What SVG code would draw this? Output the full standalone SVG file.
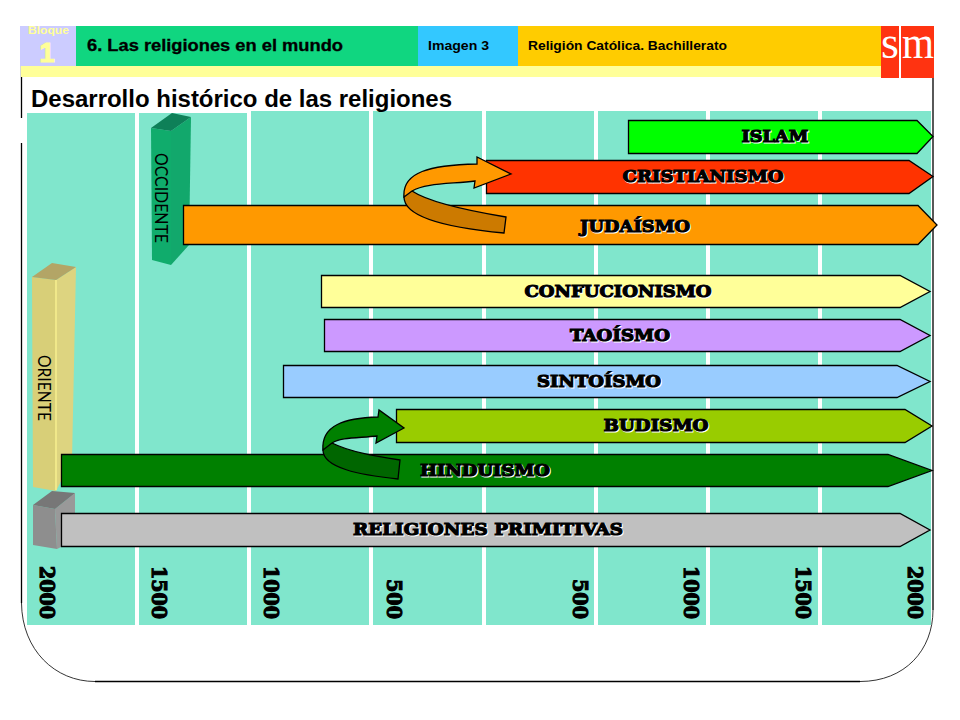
<svg xmlns="http://www.w3.org/2000/svg" width="960" height="720" viewBox="0 0 960 720">
<style>
.col{fill:#80e6cc}
.arr{stroke:#000;stroke-width:1.3}
.lab{font-family:"DejaVu Serif",serif;font-weight:bold;font-size:17.5px;text-anchor:middle;stroke:#000;stroke-width:1.2;fill:#000}
.sh{fill:#fff;stroke:#fff;stroke-width:1.2}
.yr{font-family:"DejaVu Serif",serif;font-weight:bold;font-size:20px;stroke:#000;stroke-width:1.1;fill:#000}
.hd{font-family:"Liberation Sans",Arial,sans-serif;font-weight:bold;fill:#000}
.pil{font-family:"Lato","Open Sans",sans-serif;font-weight:400;font-size:16.5px;fill:#000}
.bent{stroke:#000;stroke-width:1.3}
</style>
<rect width="960" height="720" fill="#fff"/>
<g id="frame" fill="none" stroke="#000">
<path stroke-width="1.3" d="M21.500 66V118M21.500 143V603M95 681.500H860M933 610V78"/>
<path stroke-width=".8" d="M21.500 603C22 650 55 681.500 95 681.500M860 681.500C905 681.500 933 650 933 610"/>
</g>
<g id="columns">
<rect class="col" x="27" y="113" width="108" height="512"/>
<rect class="col" x="139" y="113" width="108" height="512"/>
<rect class="col" x="251" y="111" width="118" height="514"/>
<rect class="col" x="373" y="111" width="109" height="514"/>
<rect class="col" x="486" y="111" width="108" height="514"/>
<rect class="col" x="598" y="111" width="108" height="514"/>
<rect class="col" x="710" y="111" width="108" height="514"/>
<rect class="col" x="822" y="111" width="109" height="514"/>
</g>
<g id="header">
<rect x="21" y="66" width="860" height="11" fill="#ffff99"/>
<rect x="20" y="26" width="56" height="40" fill="#ccccff"/>
<rect x="76" y="26" width="342" height="40" fill="#10d680"/>
<rect x="418" y="26" width="100" height="40" fill="#33c8ff"/>
<rect x="518" y="26" width="363" height="40" fill="#ffcc00"/>
<rect x="881" y="26" width="18" height="52" fill="#ff3311"/>
<rect x="901" y="26" width="33" height="52" fill="#ff3311"/>
<text x="28" y="34" class="hd" font-size="11.500" textLength="41" lengthAdjust="spacingAndGlyphs" style="fill:#ffff99">Bloque</text>
<text x="47" y="62" class="hd" font-size="28" text-anchor="middle" stroke="#ffff99" stroke-width="1" style="fill:#ffff99">1</text>
<text x="87" y="51" class="hd" font-size="16" stroke="#000" stroke-width=".3" textLength="256" lengthAdjust="spacingAndGlyphs">6. Las religiones en el mundo</text>
<text x="428" y="50" class="hd" font-size="12" textLength="61" lengthAdjust="spacingAndGlyphs">Imagen 3</text>
<text x="528" y="49.500" class="hd" font-size="12" textLength="199" lengthAdjust="spacingAndGlyphs">Religión Católica. Bachillerato</text>
<text x="881" y="58" font-family="Liberation Serif,serif" font-size="46" fill="#fff">s</text>
<text x="902" y="58" font-family="Liberation Serif,serif" font-size="46" fill="#fff" textLength="32" lengthAdjust="spacingAndGlyphs">m</text>
<text x="31" y="106.500" class="hd" font-size="23.500" textLength="421" lengthAdjust="spacingAndGlyphs">Desarrollo histórico de las religiones</text>
</g>
<g id="occidente">
<path d="M171 131L191 117L189 245L171 265Z" fill="#12a86c"/>
<path d="M151 128L171 131V265L152 260Z" fill="#10ac6c"/>
<path d="M151 128L172 113L191 117L171 131Z" fill="#0e8058"/>
<text class="pil" transform="translate(155 153) rotate(90)" textLength="90" lengthAdjust="spacingAndGlyphs">OCCIDENTE</text>
</g>
<g id="oriente">
<path d="M56 280L76 267L72 460L56 491Z" fill="#ddd480"/>
<path d="M32 277L56 280V491L33 487Z" fill="#d8cf78"/>
<path d="M32 277L52 263L76 267L56 280Z" fill="#b3a566"/>
<path d="M55 280H57V490H55Z" fill="#f0e88a"/>
<text class="pil" transform="translate(38 355) rotate(90)" textLength="66" lengthAdjust="spacingAndGlyphs">ORIENTE</text>
</g>
<g id="primitivas-base">
<path d="M55 509L75 493V540L57 549Z" fill="#999"/>
<path d="M33 505L55 509L57 549L33 545Z" fill="#8e8e8e"/>
<path d="M33 505L52 491L75 493L55 509Z" fill="#777"/>
</g>
<g id="connectors">
</g>
<g id="islam">
<path class="arr" fill="#00ff00" d="M628.500 120.500H917L933 136.500L917 153.500H628.500Z"/>
<text class="lab sh" x="776" y="143" textLength="67" lengthAdjust="spacingAndGlyphs">ISLAM</text>
<text class="lab" x="775" y="142" textLength="67" lengthAdjust="spacingAndGlyphs">ISLAM</text>
</g>
<g id="cristianismo">
<path class="arr" fill="#ff3300" d="M486.500 160.500H909L933 176.500L909 193.500H486.500Z"/>
<text class="lab sh" x="704" y="183" textLength="161" lengthAdjust="spacingAndGlyphs">CRISTIANISMO</text>
<text class="lab" x="703" y="182" textLength="161" lengthAdjust="spacingAndGlyphs">CRISTIANISMO</text>
</g>
<g id="judaismo">
<path class="arr" fill="#ff9900" d="M183.500 205.500H918L937 225L918 244.500H183.500Z"/>
<text class="lab sh" x="636" y="233" textLength="110" lengthAdjust="spacingAndGlyphs">JUDAÍSMO</text>
<text class="lab" x="635" y="232" textLength="110" lengthAdjust="spacingAndGlyphs">JUDAÍSMO</text>
</g>
<g id="arrow-judaismo-cristianismo">
<path class="bent" fill="#cc7a00" d="M404 197C404 218 450 228 504 233L506 217C470 211 430 203 412 191L405 193Z"/>
<path class="bent" fill="#ff9900" d="M404 197C402 172 430 165 477 164L477 157L511 174L474 188L475 181C450 184 425 183 412 191Z"/>
</g>
<g id="confucionismo">
<path class="arr" fill="#ffff99" d="M321.500 275.500H900L930 291.500L900 307.500H321.500Z"/>
<text class="lab sh" x="619" y="298" textLength="187" lengthAdjust="spacingAndGlyphs">CONFUCIONISMO</text>
<text class="lab" x="618" y="297" textLength="187" lengthAdjust="spacingAndGlyphs">CONFUCIONISMO</text>
</g>
<g id="taoismo">
<path class="arr" fill="#cc99ff" d="M324.500 319.500H900L930 335.500L900 351.500H324.500Z"/>
<text class="lab sh" x="621" y="342" textLength="100" lengthAdjust="spacingAndGlyphs">TAOÍSMO</text>
<text class="lab" x="620" y="341" textLength="100" lengthAdjust="spacingAndGlyphs">TAOÍSMO</text>
</g>
<g id="sintoismo">
<path class="arr" fill="#99ccff" d="M283.500 365.500H897L930 381.500L897 397.500H283.500Z"/>
<text class="lab sh" x="600" y="387.500" textLength="124" lengthAdjust="spacingAndGlyphs">SINTOÍSMO</text>
<text class="lab" x="599" y="386.500" textLength="124" lengthAdjust="spacingAndGlyphs">SINTOÍSMO</text>
</g>
<g id="budismo">
<path class="arr" fill="#99cc00" d="M396.500 409.500H905L932 426L905 442.500H396.500Z"/>
<text class="lab sh" x="657" y="432" textLength="105" lengthAdjust="spacingAndGlyphs">BUDISMO</text>
<text class="lab" x="656" y="431" textLength="105" lengthAdjust="spacingAndGlyphs">BUDISMO</text>
</g>
<g id="hinduismo">
<path class="arr" fill="#008000" d="M61.500 454.500H888L932 470.500L888 486.500H61.500Z"/>
<text class="lab sh" x="486" y="477" textLength="130" lengthAdjust="spacingAndGlyphs">HINDUISMO</text>
<text class="lab" x="485" y="476" textLength="130" lengthAdjust="spacingAndGlyphs">HINDUISMO</text>
</g>
<g id="arrow-hinduismo-budismo">
<path class="bent" fill="#006600" d="M323 450C323 468 360 475 398 479L400 460C375 456 350 452 332 443L324 445Z"/>
<path class="bent" fill="#008000" d="M323 450C321 425 345 418 378 417L379 410L404 428L376 443L377 436C360 438 340 437 332 443Z"/>
</g>
<g id="religiones">
<path class="arr" fill="#c0c0c0" d="M61.500 513.500H900L930 530L900 546.500H61.500Z"/>
<text class="lab sh" x="489" y="536" textLength="270" lengthAdjust="spacingAndGlyphs">RELIGIONES PRIMITIVAS</text>
<text class="lab" x="488" y="535" textLength="270" lengthAdjust="spacingAndGlyphs">RELIGIONES PRIMITIVAS</text>
</g>
<g id="axis">
<text class="yr" transform="translate(40 566) rotate(90)" textLength="53" lengthAdjust="spacingAndGlyphs">2000</text>
<text class="yr" transform="translate(152 566) rotate(90)" textLength="53" lengthAdjust="spacingAndGlyphs">1500</text>
<text class="yr" transform="translate(264 566) rotate(90)" textLength="53" lengthAdjust="spacingAndGlyphs">1000</text>
<text class="yr" transform="translate(387 579) rotate(90)" textLength="40" lengthAdjust="spacingAndGlyphs">500</text>
<text class="yr" transform="translate(573 579) rotate(90)" textLength="40" lengthAdjust="spacingAndGlyphs">500</text>
<text class="yr" transform="translate(684 566) rotate(90)" textLength="53" lengthAdjust="spacingAndGlyphs">1000</text>
<text class="yr" transform="translate(796 566) rotate(90)" textLength="53" lengthAdjust="spacingAndGlyphs">1500</text>
<text class="yr" transform="translate(908 566) rotate(90)" textLength="53" lengthAdjust="spacingAndGlyphs">2000</text>
</g>
</svg>
